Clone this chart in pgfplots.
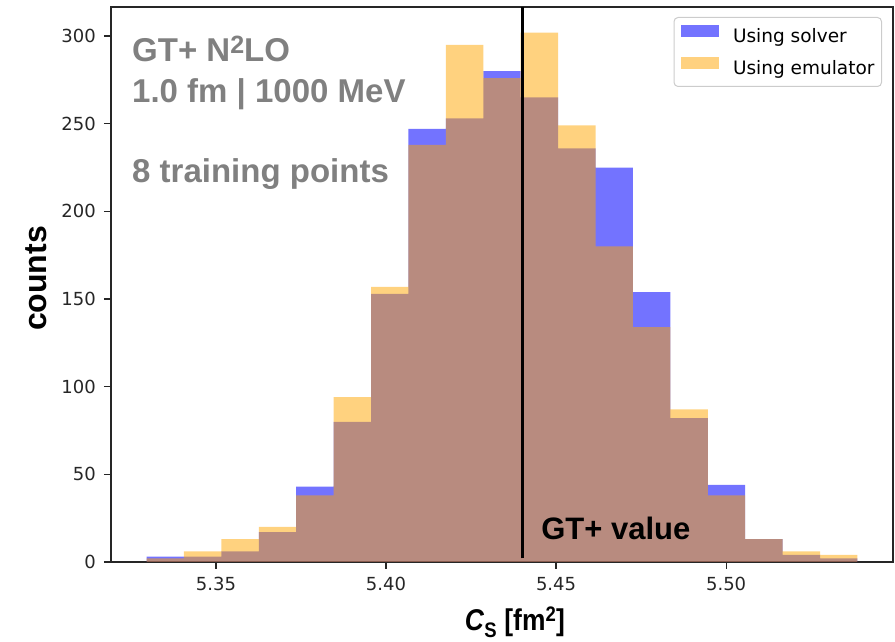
\documentclass[border=0pt]{standalone}
\usepackage{fontspec}
\setmainfont{Liberation Sans}
\newfontfamily\dejavu{DejaVu Sans}
\usepackage{pgfplots}
\pgfplotsset{compat=1.18}
\usepackage{pgfplotstable}
\definecolor{mplorange}{rgb}{1,0.647,0}
\definecolor{ticklab}{HTML}{262626}
\definecolor{annogray}{HTML}{808080}

% bin left edges (last row = right edge of last bin), counts per bin
\pgfplotstableread{
x solver emulator
5.3296 3 2
5.3406 3 6
5.3516 6 13
5.3626 17 20
5.3736 43 38
5.3846 80 94
5.3956 153 157
5.4066 247 238
5.4176 253 295
5.4286 280 276
5.4396 265 302
5.4506 236 249
5.4616 225 180
5.4726 154 134
5.4836 82 87
5.4946 44 38
5.5056 13 13
5.5166 4 6
5.5276 2 4
5.5386 2 4
}\histdata

\begin{document}
\begin{tikzpicture}
\useasboundingbox (-111pt,-80pt) rectangle (784pt,562pt);
\begin{axis}[
  at={(0pt,0pt)}, anchor=south west,
  scale only axis, width=782pt, height=555pt,
  clip=false,
  xmin=5.31915, xmax=5.54905, ymin=0, ymax=316.6,
  xtick={5.35,5.40,5.45,5.50},
  ytick={0,50,100,150,200,250,300},
  x tick label style={/pgf/number format/.cd, fixed, fixed zerofill, precision=2, /tikz/.cd},
  /pgf/number format/assume math mode=true,
  tick label style={font=\dejavu\fontsize{18}{21}\selectfont, text=ticklab},
  xticklabel style={inner sep=0pt, yshift=-8pt},
  yticklabel style={inner sep=0pt, xshift=-8pt},
  tick align=outside, tick pos=left,
  major tick length=7pt,
  tick style={ticklab, line width=1.3pt},
  axis line style={ticklab, line width=1.4pt},
  legend image code/.code={\path[#1, sharp corners] (0pt,0.5pt) rectangle (38pt,12.5pt);},
  legend style={
    at={(1,1)}, anchor=north east, xshift=-11pt, yshift=-10pt,
    draw=black!20, line width=1pt, rounded corners=4pt,
    fill=white, fill opacity=0.8, text opacity=1,
    font=\dejavu\fontsize{18.5}{22}\selectfont,
    inner xsep=7pt, inner ysep=8pt,
    row sep=10pt, column sep=14pt,
    nodes={inner sep=0pt, text height=14pt, text depth=4pt},
    cells={anchor=west},
  },
]
\addplot[const plot mark left, fill=blue, fill opacity=0.55, draw=none]
  table[x=x, y=solver]{\histdata} \closedcycle;
\addlegendentry{Using solver}
\addplot[const plot mark left, fill=mplorange, fill opacity=0.5, draw=none]
  table[x=x, y=emulator]{\histdata} \closedcycle;
\addlegendentry{Using emulator}
\addplot[black, line width=3pt, forget plot] coordinates {(5.44,2) (5.44,316.6)};

\node[xshift=21pt, yshift=-54.7pt, anchor=base west, inner sep=0pt, text=annogray,
  font=\fontsize{33}{40}\selectfont\bfseries] at (rel axis cs:0,1)
  {GT+ N\raisebox{8.4pt}{\fontsize{25}{25}\selectfont 2}LO};
\node[xshift=21pt, yshift=-96pt, anchor=base west, inner sep=0pt, text=annogray,
  font=\fontsize{33}{40}\selectfont\bfseries] at (rel axis cs:0,1)
  {1.0 fm | 1000 MeV};
\node[xshift=21pt, yshift=-176pt, anchor=base west, inner sep=0pt, text=annogray,
  font=\fontsize{33}{40}\selectfont\bfseries] at (rel axis cs:0,1)
  {8 training points};
\node[anchor=base west, inner sep=0pt, font=\fontsize{31}{36}\selectfont\bfseries]
  at (axis cs:5.4456,13.1) {GT+ value};
\node[xshift=-64pt, yshift=6pt, rotate=90, anchor=base, inner sep=0pt,
  font=\fontsize{32}{36}\selectfont\bfseries] at (rel axis cs:0,0.5) {counts};
\node[xshift=13pt, yshift=-69pt, anchor=base, inner sep=0pt,
  font=\fontsize{30}{34}\selectfont\bfseries] at (rel axis cs:0.5,0)
  {\scalebox{0.88}[1]{\textit{C}\textsubscript{S} [fm\textsuperscript{2}]}};
\end{axis}
\end{tikzpicture}
\end{document}
